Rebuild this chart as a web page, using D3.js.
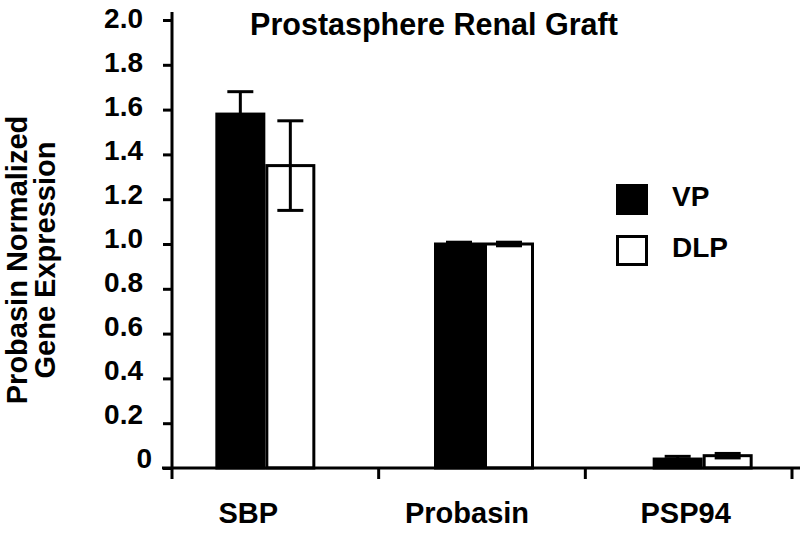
<!DOCTYPE html>
<html><head><meta charset="utf-8">
<script src="https://cdn.jsdelivr.net/npm/d3@7"></script>
<style>body{margin:0;background:#fff}svg{display:block}text{font-family:"Liberation Sans",Arial,sans-serif;font-weight:bold;fill:#000}</style>
</head><body>
<svg id="c" width="800" height="533"></svg>
<script>
const categories = ["SBP", "Probasin", "PSP94"];
const series = ["VP", "DLP"];
const vpValues = [1.58, 1.0, 0.04];
const vpErrors = [0.10, 0.008, 0.012];
const dlpValues = [1.35, 1.0, 0.055];
const dlpErrors = [0.20, 0.008, 0.01];
const yTicks = [0, 0.2, 0.4, 0.6, 0.8, 1.0, 1.2, 1.4, 1.6, 1.8, 2.0];
const title = "Prostasphere Renal Graft";
const yTitle = ["Probasin Normalized", "Gene Expression"];

const svg = d3.select("#c");
const y = d3.scaleLinear().domain([0, 2]).range([468, 20]);
const yLab = d3.scaleLinear().domain([0, 2]).range([458, 18]);
const xTick = d3.scaleBand().domain(categories).range([172, 792]);
const xBar = d3.scaleBand().domain(categories).range([156, 812]);
const xSub = d3.scaleBand().domain(series).range([0, 100]);
const xOff = -50;

const data = categories.map((c, i) => ({c, vals: [
  {s: "VP", v: vpValues[i], e: vpErrors[i]},
  {s: "DLP", v: dlpValues[i], e: dlpErrors[i]}]}));
const fill = {VP: "#000", DLP: "#fff"};

// bars
const g = svg.append("g");
data.forEach(d => {
  const cx = xBar(d.c) + xBar.bandwidth() / 2 + xOff;
  d.vals.forEach(b => {
    const x0 = cx + xSub(b.s);
    g.append("rect").attr("x", x0 + 1.5).attr("y", y(b.v))
      .attr("width", xSub.bandwidth() - 3).attr("height", y(0) - y(b.v))
      .attr("fill", fill[b.s]).attr("stroke", "#000").attr("stroke-width", 3);
  });
  d.vals.forEach(b => {
    const mx = cx + xSub(b.s) + xSub.bandwidth() / 2;
    const e = g.append("g").attr("stroke", "#000").attr("stroke-width", 3);
    e.append("line").attr("x1", mx).attr("x2", mx).attr("y1", y(b.v + b.e)).attr("y2", y(b.v - b.e));
    [b.v + b.e, b.v - b.e].forEach(t => e.append("line").attr("x1", mx - 13).attr("x2", mx + 13).attr("y1", y(t)).attr("y2", y(t)));
  });
});

// y axis
const ya = svg.append("g").attr("transform", "translate(172,0)")
  .call(d3.axisLeft(y).tickValues(yTicks).tickSize(9).tickPadding(20)
    .tickFormat(d => d === 0 ? "0" : d.toFixed(1)));
ya.select(".domain").remove();
ya.selectAll(".tick line").attr("stroke", "#000").attr("stroke-width", 3);
ya.selectAll(".tick text").attr("font-size", 28).attr("font-family", null)
  .attr("x", d => d === 0 ? -20 : -29)
  .attr("y", d => yLab(d) - y(d)).attr("dy", "0.35em");
svg.append("line").attr("x1", 172).attr("x2", 172).attr("y1", 12).attr("y2", 469)
  .attr("stroke", "#000").attr("stroke-width", 3);

// x axis
const xa = svg.append("g").attr("transform", "translate(0,468)");
xa.append("line").attr("x1", 162).attr("x2", 800).attr("y1", 0).attr("y2", 0)
  .attr("stroke", "#000").attr("stroke-width", 3);
const tickPos = categories.map(c => xTick(c)).concat([xTick.range()[1]]);
xa.selectAll("line.t").data(tickPos).join("line").attr("class", "t")
  .attr("x1", d => d).attr("x2", d => d).attr("y1", 0).attr("y2", 11)
  .attr("stroke", "#000").attr("stroke-width", 3);
xa.selectAll("text").data(categories).join("text")
  .attr("x", d => xBar(d) + xBar.bandwidth() / 2 - 17).attr("y", 55)
  .attr("text-anchor", "middle").attr("font-size", 29).text(d => d);

// title
svg.append("text").attr("x", 434).attr("y", 35).attr("text-anchor", "middle")
  .attr("font-size", 30.5).text(title);

// y title
const yt = svg.append("text").attr("transform", "translate(0,260) rotate(-90)")
  .attr("text-anchor", "middle").attr("font-size", 29);
yt.append("tspan").attr("x", 0).attr("y", 27).text(yTitle[0]);
yt.append("tspan").attr("x", 0).attr("y", 55).text(yTitle[1]);

// legend
const lg = svg.append("g");
series.forEach((s, i) => {
  const yy = 184 + i * 51;
  lg.append("rect").attr("x", 617.5).attr("y", yy + 1.5).attr("width", 29).attr("height", 28)
    .attr("fill", fill[s]).attr("stroke", "#000").attr("stroke-width", 3);
  lg.append("text").attr("x", 672).attr("y", yy + 22).attr("font-size", 28).text(s);
});
</script>
</body></html>
